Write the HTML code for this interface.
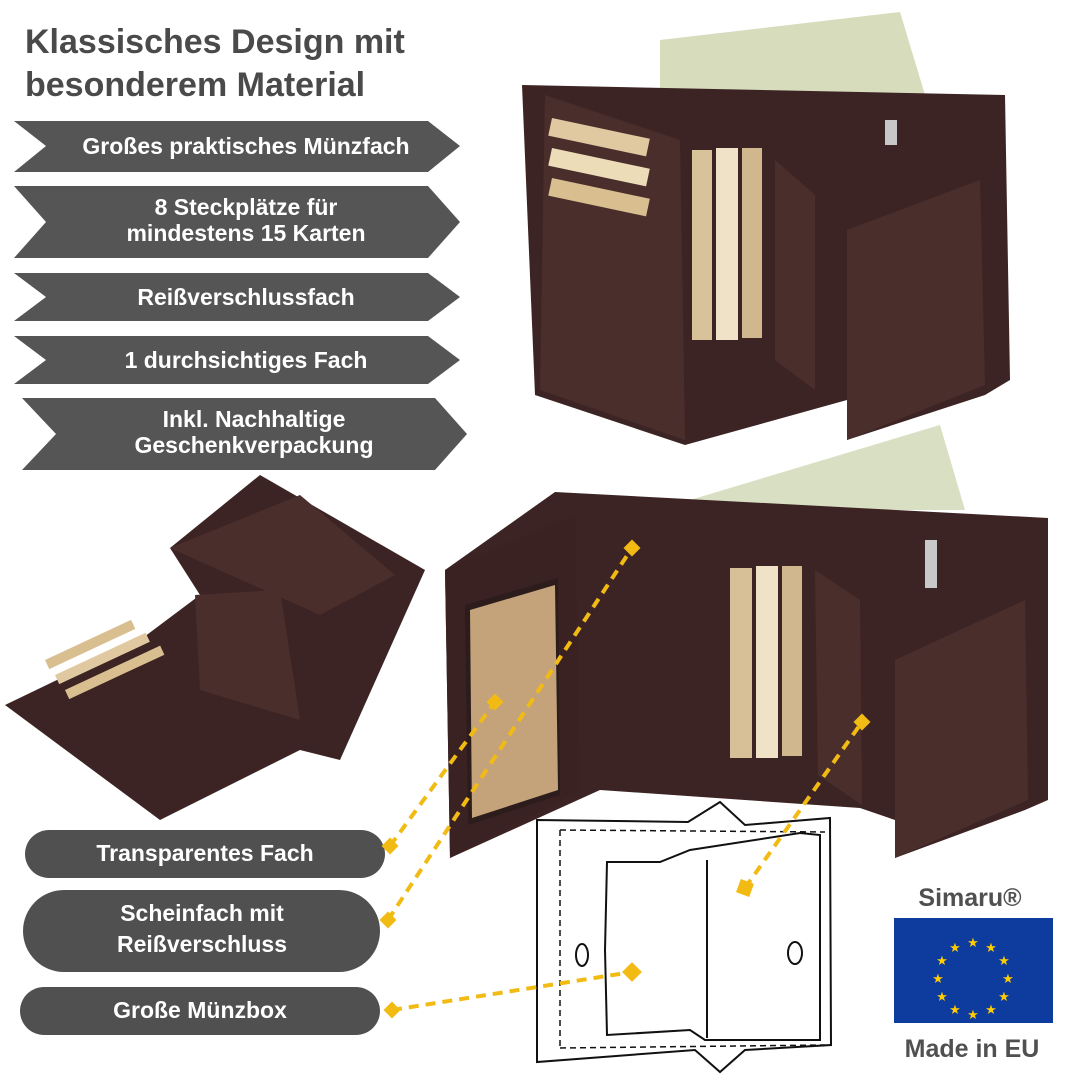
<!DOCTYPE html>
<html><head><meta charset="utf-8"><style>
html,body{margin:0;padding:0;background:#fff}
body{width:1080px;height:1080px;overflow:hidden;position:relative;font-family:"Liberation Sans",sans-serif}
</style></head><body>
<svg width="1080" height="1080" viewBox="0 0 1080 1080" xmlns="http://www.w3.org/2000/svg" style="position:absolute;left:0;top:0">
<g font-family="Liberation Sans, sans-serif" font-weight="bold">
<text x="25" y="53" font-size="34" fill="#4a4a4a">Klassisches Design mit</text>
<text x="25" y="96" font-size="34" fill="#4a4a4a">besonderem Material</text>
</g>
<g fill="#555555">
<polygon points="14,121 428,121 460,146 428,172 14,172 46,146"/>
<polygon points="14,186 428,186 460,222 428,258 14,258 46,222"/>
<polygon points="14,273 428,273 460,297 428,321 14,321 46,297"/>
<polygon points="14,336 428,336 460,360 428,384 14,384 46,360"/>
<polygon points="22,398 435,398 467,434 435,470 22,470 56,434"/>
</g>
<g font-family="Liberation Sans, sans-serif" font-weight="bold" fill="#fff" font-size="23" text-anchor="middle">
<text x="246" y="154">Großes praktisches Münzfach</text>
<text x="246" y="215">8 Steckplätze für</text>
<text x="246" y="241">mindestens 15 Karten</text>
<text x="246" y="305">Reißverschlussfach</text>
<text x="246" y="368">1 durchsichtiges Fach</text>
<text x="254" y="427">Inkl. Nachhaltige</text>
<text x="254" y="453">Geschenkverpackung</text>
</g>
<polygon points="660,40 900,12 925,95 660,95" fill="#d6dcbc"/>
<polygon points="522,85 1005,95 1010,380 985,395 847,440 847,400 685,445 535,395" fill="#3d2424"/>
<polygon points="545,95 680,140 685,440 540,390" fill="#4a2e2c"/>
<rect x="552" y="118" width="100" height="18" fill="#e0c9a0" transform="rotate(12 552 118)"/>
<rect x="552" y="148" width="100" height="18" fill="#ecdcb8" transform="rotate(12 552 148)"/>
<rect x="552" y="178" width="100" height="18" fill="#d9be90" transform="rotate(12 552 178)"/>
<rect x="692" y="150" width="20" height="190" fill="#d8c29a"/>
<rect x="716" y="148" width="22" height="192" fill="#efe2c6"/>
<rect x="742" y="148" width="20" height="190" fill="#d0b78e"/>
<polygon points="775,160 815,195 815,390 775,360" fill="#4a2e2c"/>
<polygon points="847,230 980,180 985,385 847,440" fill="#4a2e2c"/>
<rect x="885" y="120" width="12" height="25" fill="#c8c8c8"/>
<polygon points="690,500 940,425 965,510 700,510" fill="#d9dfc2"/>
<polygon points="555,492 1048,518 1048,800 1025,810 895,858 895,820 860,808 600,790 450,858 445,570" fill="#3d2424"/>
<polygon points="445,570 575,515 580,790 450,858" fill="#3a2222"/>
<polygon points="465,605 558,578 560,795 468,825" fill="#2c1c1c"/>
<polygon points="470,610 555,585 558,790 472,818" fill="#c4a37a"/>
<rect x="730" y="568" width="22" height="190" fill="#d7c098"/>
<rect x="756" y="566" width="22" height="192" fill="#efe2c6"/>
<rect x="782" y="566" width="20" height="190" fill="#d0b78e"/>
<polygon points="815,570 860,600 862,805 818,775" fill="#4a2e2c"/>
<polygon points="895,660 1025,600 1028,800 895,858" fill="#4a2e2c"/>
<rect x="925" y="540" width="12" height="48" fill="#c8c8c8"/>
<polygon points="260,475 425,570 340,760 300,750 160,820 5,705 140,640 200,595 170,548" fill="#3d2424"/>
<polygon points="170,548 300,495 395,575 320,615" fill="#4a2e2c"/>
<polygon points="195,595 280,590 300,720 200,690" fill="#4a2e2c"/>
<rect x="45" y="660" width="95" height="10" fill="#d9bf90" transform="rotate(-25 45 660)"/>
<rect x="55" y="675" width="100" height="10" fill="#e0c9a0" transform="rotate(-25 55 675)"/>
<rect x="65" y="690" width="105" height="10" fill="#d9bf90" transform="rotate(-25 65 690)"/>
<g fill="none" stroke="#111" stroke-width="2">
<polygon points="537,820 688,822 720,802 745,825 830,818 831,1045 745,1050 720,1072 695,1050 537,1062"/>
<path d="M560,830 L825,832 M560,830 L560,1048 M560,1048 L825,1045" stroke-dasharray="6,4" stroke-width="1.5"/>
<polygon points="607,862 660,862 690,850 800,833 820,835 820,1040 705,1040 690,1030 607,1035 605,950"/>
<line x1="707" y1="860" x2="707" y2="1038"/>
<ellipse cx="582" cy="955" rx="6" ry="11"/>
<ellipse cx="795" cy="953" rx="7" ry="11"/>
</g>
<g fill="#505050">
<rect x="25" y="830" width="360" height="48" rx="24"/>
<rect x="23" y="890" width="357" height="82" rx="41"/>
<rect x="20" y="987" width="360" height="48" rx="24"/>
</g>
<g font-family="Liberation Sans, sans-serif" font-weight="bold" fill="#fff" font-size="23" text-anchor="middle">
<text x="205" y="861">Transparentes Fach</text>
<text x="202" y="921">Scheinfach mit</text>
<text x="202" y="952">Reißverschluss</text>
<text x="200" y="1018">Große Münzbox</text>
</g>
<g stroke="#f2bb14" stroke-width="4" stroke-dasharray="10,7" fill="none">
<line x1="390" y1="846" x2="495" y2="702"/>
<line x1="388" y1="920" x2="632" y2="548"/>
<line x1="392" y1="1010" x2="632" y2="972"/>
<line x1="745" y1="888" x2="862" y2="722"/>
</g>
<g fill="#f2bb14">
<rect x="384" y="840" width="12" height="12" transform="rotate(45 390 846)"/>
<rect x="489" y="696" width="12" height="12" transform="rotate(45 495 702)"/>
<rect x="382" y="914" width="12" height="12" transform="rotate(45 388 920)"/>
<rect x="626" y="542" width="12" height="12" transform="rotate(45 632 548)"/>
<rect x="386" y="1004" width="12" height="12" transform="rotate(45 392 1010)"/>
<rect x="625" y="965" width="14" height="14" transform="rotate(45 632 972)"/>
<rect x="738" y="881" width="14" height="14" transform="rotate(20 745 888)"/>
<rect x="856" y="716" width="12" height="12" transform="rotate(45 862 722)"/>
</g>
<text x="970" y="906" font-family="Liberation Sans, sans-serif" font-weight="bold" font-size="25" fill="#505050" text-anchor="middle">Simaru®</text>
<rect x="894" y="918" width="159" height="105" fill="#0d3b9e"/>
<g fill="#ffcc00" font-size="13" text-anchor="middle" font-family="DejaVu Sans, sans-serif">
<text x="973" y="947">★</text><text x="991" y="952">★</text><text x="1004" y="965">★</text><text x="1008" y="983">★</text><text x="1004" y="1001">★</text><text x="991" y="1014">★</text><text x="973" y="1019">★</text><text x="955" y="1014">★</text><text x="942" y="1001">★</text><text x="938" y="983">★</text><text x="942" y="965">★</text><text x="955" y="952">★</text>
</g>
<text x="972" y="1057" font-family="Liberation Sans, sans-serif" font-weight="bold" font-size="25" fill="#505050" text-anchor="middle">Made in EU</text>
</svg>
</body></html>
